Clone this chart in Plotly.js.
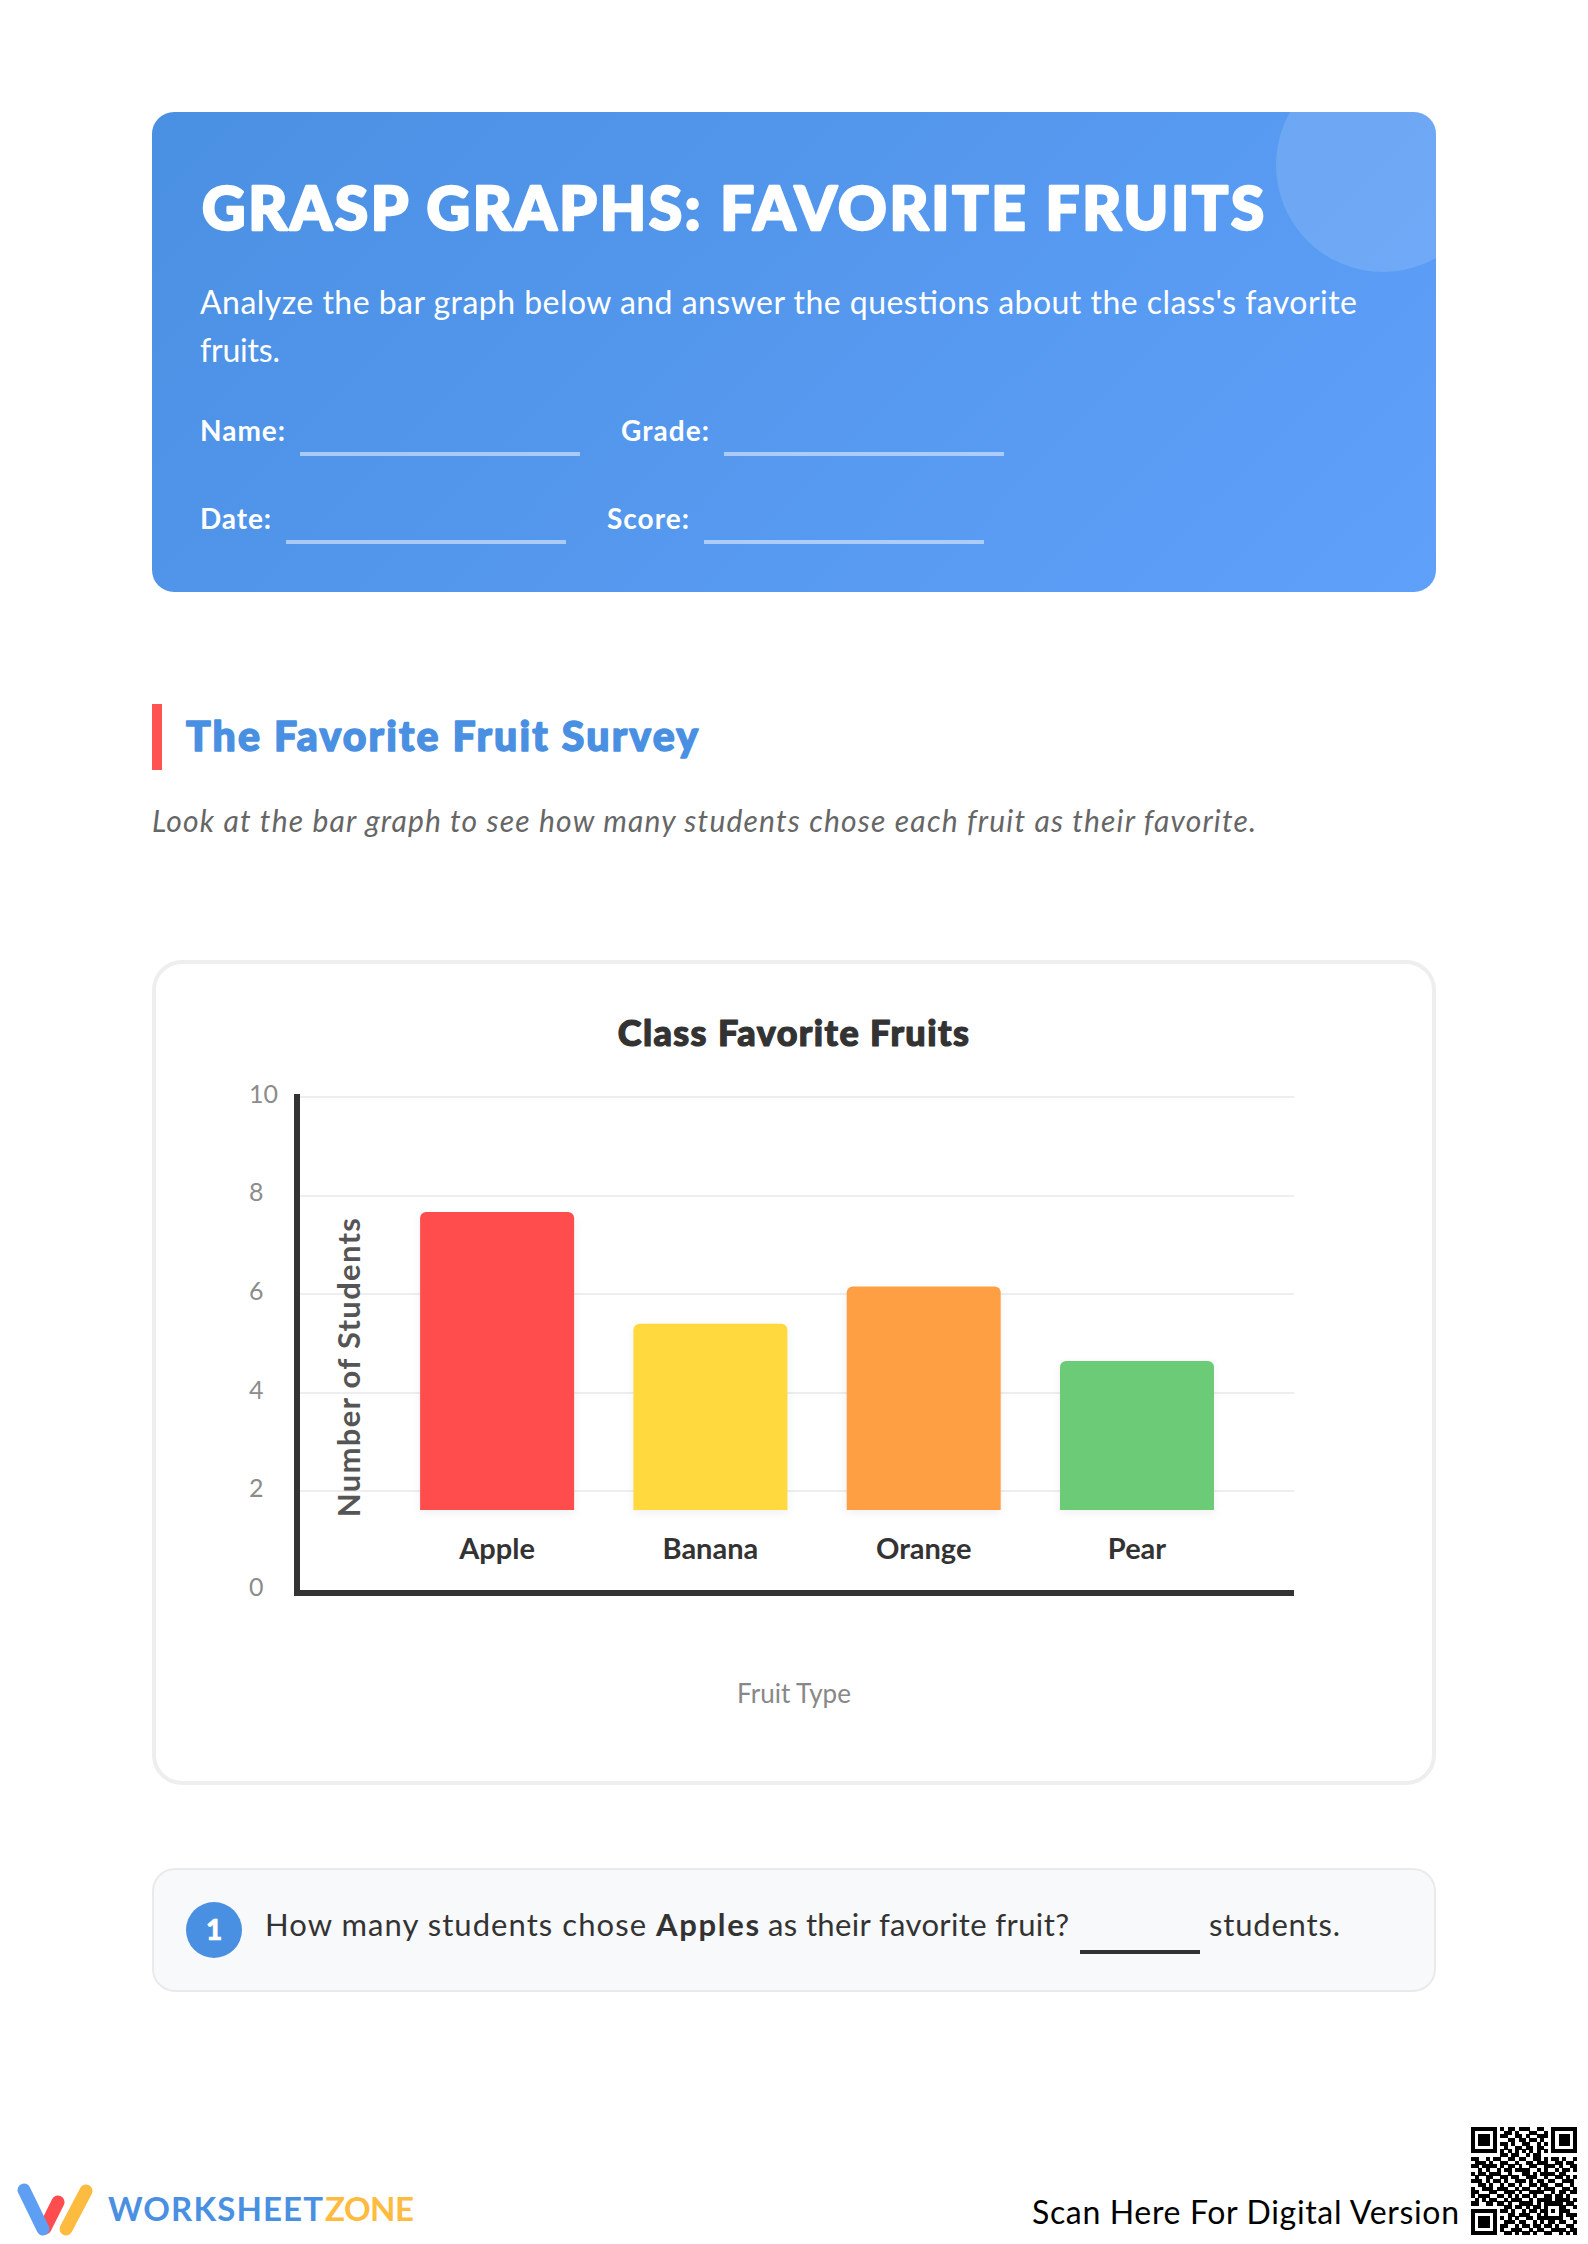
<!DOCTYPE html>
<html>
<head>
<meta charset="utf-8">
<script src="https://cdn.plot.ly/plotly-3.0.1.min.js"></script>
<style>
html, body { margin: 0; padding: 0; background: #fff; }
#page { position: relative; width: 1588px; height: 2244px; overflow: hidden; font-family: Lato, sans-serif; }
#page svg.sheet { position: absolute; left: 0; top: 0; }
#myChart { position: absolute; left: 152px; top: 960px; width: 1284px; height: 825px; }
#myChart .gtitle { stroke: #333; stroke-width: 1.2px; stroke-linejoin: round; letter-spacing: 1.4px; }
#myChart .annotation-text { letter-spacing: 1.3px; }
#myChart .xtitle { transform: translateX(-3px); }
#myChart .bars .point path { filter: drop-shadow(0 3px 5px rgba(0,0,0,0.06)); }
</style>
</head>
<body>
<div id="page">
  <svg class="sheet" id="sheet" width="1588" height="2244" xmlns="http://www.w3.org/2000/svg">
    <defs>
      <linearGradient id="headerFill" gradientUnits="userSpaceOnUse" x1="353" y1="-89" x2="1235" y2="793">
        <stop offset="0" stop-color="#4a90e2"/>
        <stop offset="1" stop-color="#5fa0fa"/>
      </linearGradient>
      <clipPath id="headerClip"><rect x="152" y="112" width="1284" height="480" rx="22"/></clipPath>
    </defs>
    <rect x="152" y="112" width="1284" height="480" rx="22" fill="url(#headerFill)"/>
    <circle cx="1383" cy="165" r="107" fill="#fff" fill-opacity="0.13" clip-path="url(#headerClip)"/>
    <rect x="300" y="452" width="280" height="4" fill="#fff" fill-opacity="0.5"/>
    <rect x="724" y="452" width="280" height="4" fill="#fff" fill-opacity="0.5"/>
    <rect x="286" y="540" width="280" height="4" fill="#fff" fill-opacity="0.5"/>
    <rect x="704" y="540" width="280" height="4" fill="#fff" fill-opacity="0.5"/>
    <rect x="152" y="704" width="10" height="66" fill="#ff5252"/>
    <rect x="154" y="962" width="1280" height="821" rx="28" fill="#fff" stroke="#eee" stroke-width="4"/>
    <rect x="153" y="1869" width="1282" height="122" rx="22" fill="#f8f9fa" stroke="#eaeaea" stroke-width="2"/>
    <circle cx="214" cy="1930" r="28" fill="#4a90e2"/>
    <rect x="1080" y="1950" width="120" height="4" fill="#333"/>
    <g fill="none" stroke-linecap="round" stroke-width="13">
      <line x1="86" y1="2191" x2="66" y2="2229" stroke="#fdbb40"/>
      <line x1="58" y1="2202" x2="45" y2="2228" stroke="#ff4d4f"/>
      <line x1="24" y1="2190" x2="43" y2="2229" stroke="#5f9ff3"/>
    </g>
    <g id="qr" fill="#000" shape-rendering="crispEdges"></g>
  </svg>
  <div id="myChart"></div>
</div>
<script>
var fruits = ['Apple', 'Banana', 'Orange', 'Pear'];
var students = [8, 5, 6, 4];
var barColors = ['#ff4d4d', '#ffd93d', '#ff9f43', '#6bcb77'];
var yTicks = [0, 2, 4, 6, 8, 10];
var yTickText = ['0\u2007', '2\u2007', '4\u2007', '6\u2007', '8\u2007', '10'];

var qrRows = [
  '11111110101101110011001111111',
  '10000010011010001100101000001',
  '10111010110011010011101011101',
  '10111010001101101101001011101',
  '10111010110100110010101011101',
  '10000010010011011011001000001',
  '11111110101010101010101111111',
  '00000000110110010110000000000',
  '11001011001101100110101101001',
  '01110100110010011011100110110',
  '11011110101101001100111010011',
  '00101001011011110010100101101',
  '10110111001000110101111011000',
  '01001100110110011100100110101',
  '11101011010011101011011001110',
  '00110100101101001101100110010',
  '10011101110010110010111001101',
  '11000110011101001111001011011',
  '10111001101010110100110110100',
  '01010110010111001011110111101',
  '11001101101001111010111110110',
  '00000000011011010110100011001',
  '11111110110100101101101011100',
  '10000010001101110010100010111',
  '10111010101010011011111110010',
  '10111010011101100101011011001',
  '10111010110010110110110100110',
  '10000010100111001011001111011',
  '11111110011010110100110010101'
];

var svgNS = 'http://www.w3.org/2000/svg';
var sheet = document.getElementById('sheet');

function addText(str, x, y, width, size, color, opts) {
  opts = opts || {};
  var t = document.createElementNS(svgNS, 'text');
  t.setAttribute('x', x);
  t.setAttribute('y', y);
  t.setAttribute('font-size', size);
  t.setAttribute('fill', color);
  t.setAttribute('font-family', 'Lato, sans-serif');
  if (opts.weight) t.setAttribute('font-weight', opts.weight);
  if (opts.italic) t.setAttribute('font-style', 'italic');
  if (opts.stroke) {
    t.setAttribute('stroke', color);
    t.setAttribute('stroke-width', opts.stroke);
    t.setAttribute('stroke-linejoin', 'round');
  }
  if (width) {
    t.setAttribute('textLength', width);
    t.setAttribute('lengthAdjust', 'spacing');
  }
  t.textContent = str;
  sheet.appendChild(t);
}

addText('GRASP GRAPHS: FAVORITE FRUITS', 202, 230, 1062, 60, '#fff', {weight: 900, stroke: 2.5});
addText("Analyze the bar graph below and answer the questions about the class's favorite", 200, 314, 1157, 32, '#fff');
addText('fruits.', 200, 362, 80, 32, '#fff');
addText('Name:', 200, 441, 85, 28, '#fff', {weight: 700});
addText('Grade:', 621, 441, 88, 28, '#fff', {weight: 700});
addText('Date:', 200, 529, 71, 28, '#fff', {weight: 700});
addText('Score:', 607, 529, 82, 28, '#fff', {weight: 700});
addText('The Favorite Fruit Survey', 186, 751, 512, 41, '#4a90e2', {weight: 900, stroke: 1.5});
addText('Look at the bar graph to see how many students chose each fruit as their favorite.', 152, 832, 1104, 30, '#666', {italic: true});
addText('1', 206, 1940, 16, 28, '#fff', {weight: 900, stroke: 0.6});
addText('How many students chose', 265, 1936, 381, 31, '#333');
addText('Apples', 656, 1936, 103, 31, '#333', {weight: 700});
addText('as their favorite fruit?', 768, 1936, 301, 31, '#333');
addText('students.', 1209, 1936, 131, 31, '#333');
addText('WORKSHEET', 108, 2221, 215, 33, '#4a90e2', {weight: 700});
addText('ZONE', 325, 2221, 89, 33, '#fdbb40', {weight: 700});
addText('Scan Here For Digital Version', 1032, 2224, 427, 32, '#000', {weight: 400});

// QR code
var qr = document.getElementById('qr');
var cellW = 106 / qrRows.length, cellH = 108 / qrRows.length;
qrRows.forEach(function (row, r) {
  row.split('').forEach(function (cell, c) {
    if (cell !== '1') return;
    var m = document.createElementNS(svgNS, 'rect');
    m.setAttribute('x', 1471 + c * cellW);
    m.setAttribute('y', 2127 + r * cellH);
    m.setAttribute('width', cellW + 0.3);
    m.setAttribute('height', cellH + 0.3);
    qr.appendChild(m);
  });
});

// empty trace so the tick axis gets drawn
var tickHolder = {
  type: 'scatter',
  x: [],
  y: [],
  mode: 'none',
  hoverinfo: 'skip'
};

var bars = {
  type: 'bar',
  x: fruits,
  y: students,
  xaxis: 'x2',
  yaxis: 'y2',
  width: 0.722,
  marker: { color: barColors, line: { width: 0 } },
  hoverinfo: 'x+y'
};

var lay = {
  width: 1284,
  height: 825,
  margin: { l: 148, r: 142, t: 134, b: 195 },
  paper_bgcolor: 'rgba(0,0,0,0)',
  plot_bgcolor: 'rgba(0,0,0,0)',
  showlegend: false,
  barcornerradius: 6,
  title: {
    text: 'Class Favorite Fruits',
    font: { family: 'Lato, sans-serif', size: 36, color: '#333', weight: 900 },
    x: 0.5,
    xanchor: 'center',
    y: 0.911,
    yref: 'container',
    yanchor: 'middle'
  },
  xaxis: {
    range: [0, 1],
    showline: true,
    linecolor: '#333',
    linewidth: 6,
    ticks: '',
    showgrid: false,
    zeroline: false,
    showticklabels: false,
    title: {
      text: 'Fruit Type',
      standoff: 92,
      font: { family: 'Lato, sans-serif', size: 26, color: '#888' }
    }
  },
  // the fruit axis sits on the bar baseline, above the drawn x axis line
  xaxis2: {
    type: 'category',
    categoryorder: 'array',
    categoryarray: fruits,
    range: [-0.924, 3.736],
    overlaying: 'x',
    anchor: 'free',
    position: 0.1613,
    showline: false,
    ticks: '',
    showgrid: false,
    zeroline: false,
    ticklabelstandoff: 19,
    tickfont: { family: 'Lato, sans-serif', size: 29, color: '#333', weight: 700 }
  },
  yaxis: {
    range: [0, 10.06],
    tickvals: yTicks,
    ticktext: yTickText,
    showline: true,
    linecolor: '#333',
    linewidth: 6,
    ticks: '',
    showgrid: true,
    gridcolor: '#eeeeee',
    gridwidth: 2,
    zeroline: false,
    ticklabelstandoff: 11,
    ticklabelshift: -3,
    tickfont: { family: 'Lato, sans-serif', size: 25, color: '#8c8c8c', weight: 400 }
  },
  yaxis2: {
    overlaying: 'y',
    side: 'left',
    range: [-2.148, 11.168],
    visible: false,
    showgrid: false,
    zeroline: false
  },
  annotations: [{
    text: 'Number of Students',
    xref: 'paper',
    yref: 'paper',
    x: 0.0485,
    y: 0.449,
    xanchor: 'center',
    yanchor: 'middle',
    textangle: -90,
    showarrow: false,
    font: { family: 'Lato, sans-serif', size: 31, color: '#555', weight: 700 }
  }]
};

Plotly.newPlot('myChart', [tickHolder, bars], lay, { displayModeBar: false });
</script>
</body>
</html>
